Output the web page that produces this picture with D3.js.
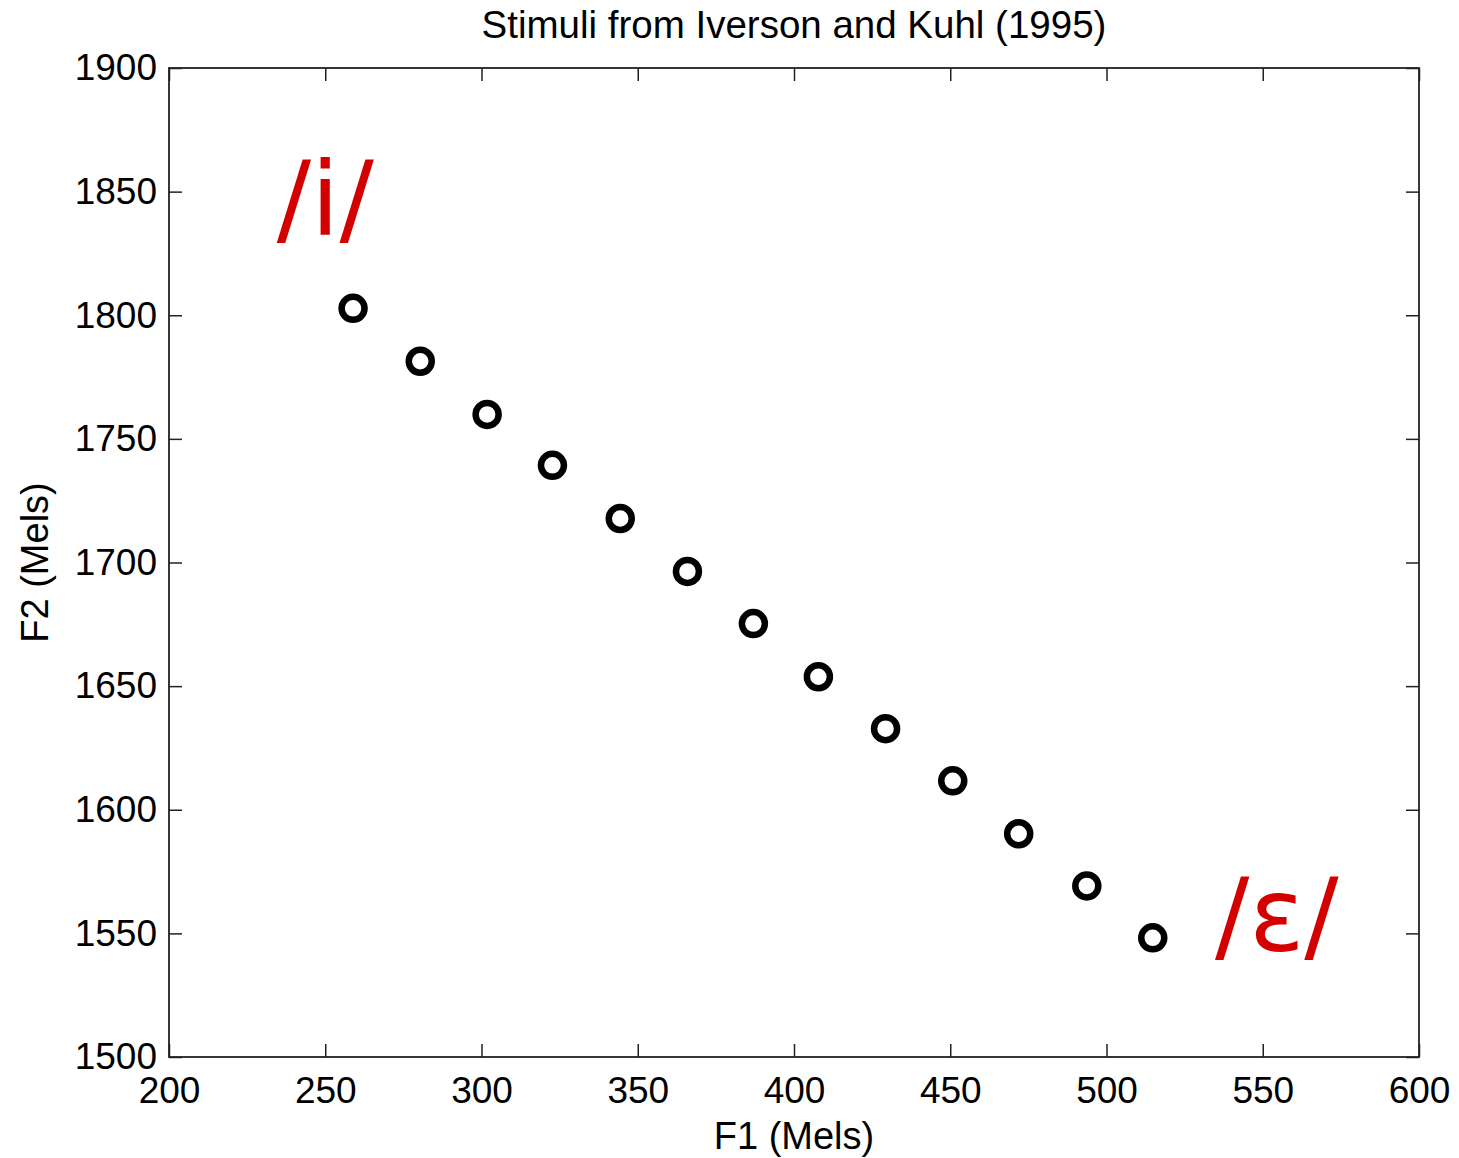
<!DOCTYPE html>
<html>
<head>
<meta charset="utf-8">
<script src="https://cdn.jsdelivr.net/npm/d3@7"></script>
<style>
  body { margin: 0; background: #fff; }
  text { font-family: "Liberation Sans", Arial, sans-serif; }
</style>
</head>
<body>
<svg width="1459" height="1158"></svg>
<script>
// stimulus formant values (Mels)
var f1 = [258.9, 280.4, 301.8, 322.7, 344.4, 365.9, 387.0, 407.8, 429.3, 450.8, 471.9, 493.7, 514.8];
var f2 = [1802.8, 1781.4, 1759.9, 1739.3, 1717.8, 1696.4, 1675.3, 1653.8, 1632.8, 1611.7, 1590.3, 1569.2, 1548.2];
var xTicks = [200, 250, 300, 350, 400, 450, 500, 550, 600];
var yTicks = [1500, 1550, 1600, 1650, 1700, 1750, 1800, 1850, 1900];
var vowelLabels = [{"text": "/i/", "x": 250, "y": 1833}, {"text": "/\u025b/", "x": 554.5, "y": 1543}];

var svg = d3.select("svg"),
    mLeft = 169, mTop = 68, mRight = 1419, mBottom = 1057;

var x = d3.scaleLinear().domain([200, 600]).range([mLeft, mRight]);
var y = d3.scaleLinear().domain([1500, 1900]).range([mBottom, mTop]);

var tickLen = 13;

svg.append("g")
    .attr("transform", "translate(0," + mBottom + ")")
    .call(d3.axisBottom(x).tickValues(xTicks).tickSize(-tickLen).tickPadding(20).tickFormat(d3.format("d")));
svg.append("g")
    .attr("transform", "translate(0," + mTop + ")")
    .call(d3.axisTop(x).tickValues(xTicks).tickSize(-tickLen).tickFormat(""));
svg.append("g")
    .attr("transform", "translate(" + mLeft + ",0)")
    .call(d3.axisLeft(y).tickValues(yTicks).tickSize(-tickLen).tickPadding(12).tickFormat(d3.format("d")));
svg.append("g")
    .attr("transform", "translate(" + mRight + ",0)")
    .call(d3.axisRight(y).tickValues(yTicks).tickSize(-tickLen).tickFormat(""));

svg.selectAll(".domain").remove();
svg.selectAll(".tick line").attr("stroke", "#222").attr("stroke-width", 1.5);
svg.selectAll(".tick text").attr("fill", "#000").style("font-size", "37px");

svg.append("rect")
    .attr("x", mLeft).attr("y", mTop)
    .attr("width", mRight - mLeft).attr("height", mBottom - mTop)
    .attr("fill", "none").attr("stroke", "#222").attr("stroke-width", 1.8);

svg.selectAll("circle.pt")
    .data(f1)
    .enter()
    .append("circle")
    .attr("class", "pt")
    .attr("cx", function(d) { return x(d); })
    .attr("cy", function(d, i) { return y(f2[i]); })
    .attr("r", 11.5)
    .attr("fill", "#fff")
    .attr("stroke", "#000")
    .attr("stroke-width", 6.5);

svg.selectAll("text.vowel")
    .data(vowelLabels)
    .enter()
    .append("text")
    .attr("class", "vowel")
    .attr("x", function(d) { return x(d.x); })
    .attr("y", function(d) { return y(d.y); })
    .attr("text-anchor", "middle")
    .attr("fill", "#d40000")
    .style("font-family", "'DejaVu Sans', sans-serif")
    .style("font-size", "102px")
    .text(function(d) { return d.text; });

svg.append("text")
    .attr("x", (mLeft + mRight) / 2)
    .attr("y", 38)
    .attr("text-anchor", "middle")
    .style("font-size", "38.5px")
    .text("Stimuli from Iverson and Kuhl (1995)");

svg.append("text")
    .attr("x", (mLeft + mRight) / 2)
    .attr("y", 1149)
    .attr("text-anchor", "middle")
    .style("font-size", "38px")
    .text("F1 (Mels)");

svg.append("text")
    .attr("transform", "translate(48," + (mTop + mBottom) / 2 + ") rotate(-90)")
    .attr("text-anchor", "middle")
    .style("font-size", "38px")
    .text("F2 (Mels)");
</script>
</body>
</html>
